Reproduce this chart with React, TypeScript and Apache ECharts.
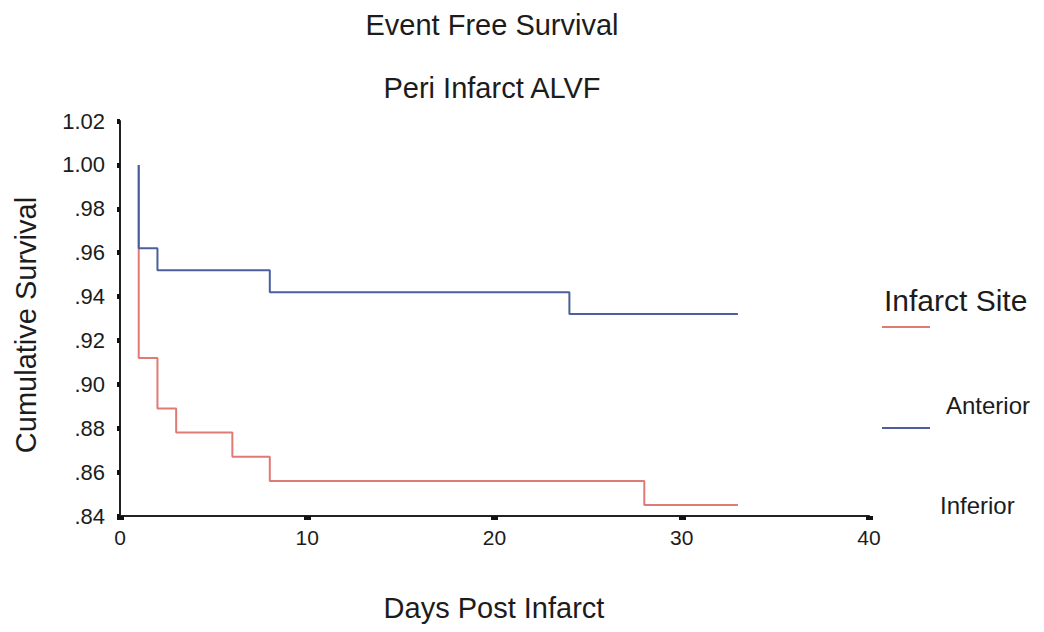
import React, { useEffect, useRef } from "react";
import * as echarts from "echarts";

const titleLines = ["Event Free Survival", "Peri Infarct ALVF"];
const xAxisName = "Days Post Infarct";
const yAxisName = "Cumulative Survival";
const legendTitle = "Infarct Site";
const groupNames = ["Anterior", "Inferior"];

// Kaplan-Meier step data (days, cumulative survival)
const anteriorDays = [1, 1, 2, 3, 6, 8, 28, 33];
const anteriorSurv = [1.0, 0.912, 0.889, 0.878, 0.867, 0.856, 0.845, 0.845];
const inferiorDays = [1, 1, 2, 8, 24, 33];
const inferiorSurv = [1.0, 0.962, 0.952, 0.942, 0.932, 0.932];

const colors = ["#e07a74", "#4c5f9c"];
const FONT = "'Liberation Sans', Arial, sans-serif";
const TXT = "#1c1c1c";

export default function App() {
  const ref = useRef<HTMLDivElement>(null);
  useEffect(() => {
    if (!ref.current) return;
    const chart = echarts.init(ref.current, null, { renderer: "svg" });
    const mk = (xs: number[], ys: number[]) => xs.map((x, i) => [x, ys[i]]);
    const txt = (text: string, x: number, y: number, size: number, align = "center", rotation = 0) => ({
      type: "text",
      x,
      y,
      rotation,
      style: { text, font: `${size}px ${FONT}`, fill: TXT, textAlign: align, textVerticalAlign: "middle" },
    });
    chart.setOption({
      animation: false,
      backgroundColor: "#ffffff",
      grid: { left: 120, right: 175, top: 121, bottom: 116 },
      xAxis: {
        type: "value",
        min: 0,
        max: 40,
        interval: 10,
        splitLine: { show: false },
        axisLine: { show: true, onZero: false, lineStyle: { color: "#222", width: 2 } },
        axisTick: { show: true, length: 4, lineStyle: { color: "#111", width: 7 } },
        axisLabel: { color: TXT, fontSize: 21, fontFamily: FONT, margin: 11 },
      },
      yAxis: {
        type: "value",
        min: 0.84,
        max: 1.02,
        interval: 0.02,
        splitLine: { show: false },
        axisLine: { show: true, lineStyle: { color: "#222", width: 2 } },
        axisTick: { show: true, length: 3, lineStyle: { color: "#111", width: 5 } },
        axisLabel: {
          color: TXT,
          fontSize: 22,
          fontFamily: FONT,
          margin: 15,
          formatter: (v: number) => {
            const s = v.toFixed(2);
            return v < 1 ? s.slice(1) : s;
          },
        },
      },
      series: [
        {
          name: groupNames[0],
          type: "line",
          step: "end",
          symbol: "none",
          data: mk(anteriorDays, anteriorSurv),
          lineStyle: { color: colors[0], width: 2 },
          z: 2,
        },
        {
          name: groupNames[1],
          type: "line",
          step: "end",
          symbol: "none",
          data: mk(inferiorDays, inferiorSurv),
          lineStyle: { color: colors[1], width: 2 },
          z: 3,
        },
      ],
      graphic: [
        txt(titleLines[0], 492, 25, 29),
        txt(titleLines[1], 492, 88, 29),
        txt(xAxisName, 494, 608, 29),
        txt(yAxisName, 26, 325, 29, "center", Math.PI / 2),
        txt(legendTitle, 884, 300, 30, "left"),
        { type: "line", shape: { x1: 882, y1: 327, x2: 930, y2: 327 }, style: { stroke: colors[0], lineWidth: 2 } },
        txt(groupNames[0], 946, 405, 24, "left"),
        { type: "line", shape: { x1: 882, y1: 428, x2: 930, y2: 428 }, style: { stroke: colors[1], lineWidth: 2 } },
        txt(groupNames[1], 940, 505, 24, "left"),
      ],
    });
    return () => chart.dispose();
  }, []);
  return (
    <div
      ref={ref}
      style={{ position: "fixed", left: 0, top: 0, width: 1044, height: 632, background: "#fff" }}
    />
  );
}
